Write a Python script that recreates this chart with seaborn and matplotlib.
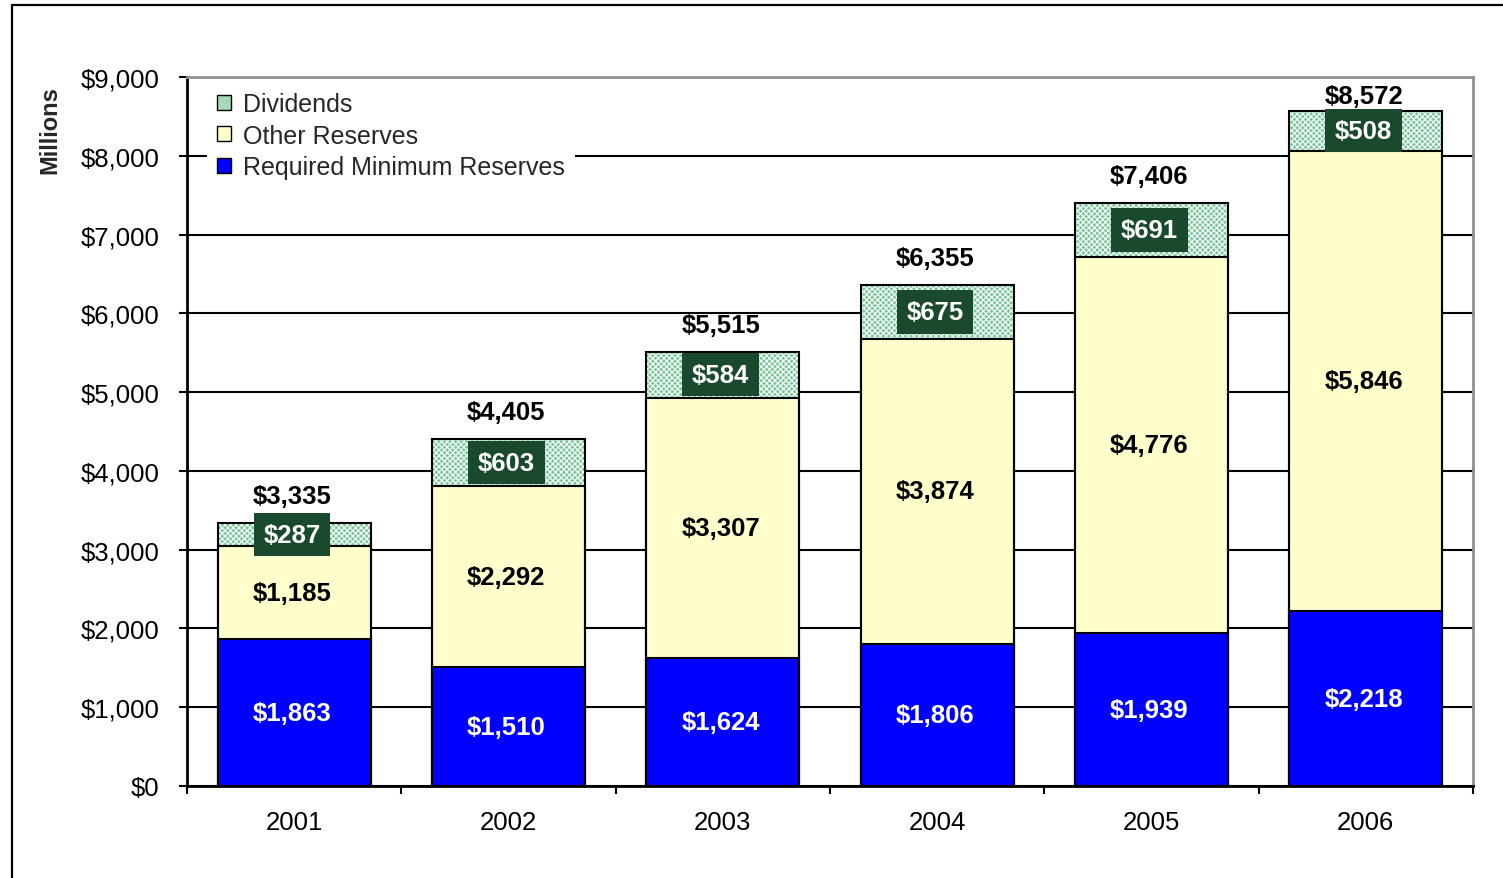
import numpy as np
import pandas as pd
import matplotlib
matplotlib.use("Agg")
import matplotlib.pyplot as plt
from matplotlib.patches import Patch, Rectangle
import seaborn as sns

# ---- data ----
years = ["2001", "2002", "2003", "2004", "2005", "2006"]
required = [1863, 1510, 1624, 1806, 1939, 2218]
other = [1185, 2292, 3307, 3874, 4776, 5846]
dividends = [287, 603, 584, 675, 691, 508]
totals = [3335, 4405, 5515, 6355, 7406, 8572]
yticks = [0, 1000, 2000, 3000, 4000, 5000, 6000, 7000, 8000, 9000]

sns.set_style("white")
plt.rcParams["font.family"] = ["Liberation Sans", "DejaVu Sans"]
plt.rcParams["hatch.linewidth"] = 0.8

C_REQ = "#0000ff"
C_OTH = "#ffffcc"
C_DIV = "#78c699"
C_DIV_LEG = "#a6d8b8"
C_BOX = "#1a4a2e"
FS = 18.5

df = pd.DataFrame({"year": years, "required": required, "other": other,
                   "dividends": dividends, "total": totals})
df["req_oth"] = df["required"] + df["other"]
df["stack_total"] = df["req_oth"] + df["dividends"]

fig = plt.figure(figsize=(15.03, 8.79), dpi=100)
ax = fig.add_axes([187 / 1503, 1 - 787 / 879, (1473 - 187) / 1503, (787 - 78) / 879])

bw = 0.715
# dividends layer (full stack height), hatched
sns.barplot(data=df, x="year", y="stack_total", color=C_DIV, saturation=1,
            width=bw, edgecolor="white", linewidth=0, hatch="xxxxxx",
            errorbar=None, ax=ax, zorder=3)
# other reserves layer
sns.barplot(data=df, x="year", y="req_oth", color=C_OTH, saturation=1,
            width=bw, edgecolor="black", linewidth=1.5,
            errorbar=None, ax=ax, zorder=4)
# required layer
sns.barplot(data=df, x="year", y="required", color=C_REQ, saturation=1,
            width=bw, edgecolor="black", linewidth=1.5,
            errorbar=None, ax=ax, zorder=5)
# outline of full stacks
sns.barplot(data=df, x="year", y="stack_total", color="black", fill=False,
            width=bw, linewidth=1.5, errorbar=None, ax=ax, zorder=6)

# labels
for i in range(len(years)):
    r, o, d, t = required[i], other[i], dividends[i], totals[i]
    ax.text(i - 0.01, r / 2, f"${r:,}", ha="center", va="center", color="white",
            fontsize=FS, fontweight="bold", zorder=8)
    ax.text(i - 0.01, r + o / 2, f"${o:,}", ha="center", va="center", color="black",
            fontsize=FS, fontweight="bold", zorder=8)
    ax.text(i - 0.01, r + o + d / 2, f"${d:,}", ha="center", va="center", color="white",
            fontsize=FS, fontweight="bold", zorder=8,
            bbox=dict(boxstyle="square,pad=0.38", facecolor=C_BOX, edgecolor="none"))
    ty = min(t + 254, 8676)
    ax.text(i - 0.01, ty, f"${t:,}", ha="center", va="baseline", color="black",
            fontsize=FS, fontweight="bold", zorder=8)

# axes styling
ax.set_ylim(0, 9000)
ax.set_xlim(-0.5, 5.5)
ax.set_yticks(yticks)
ax.set_yticklabels([f"${v:,}" for v in yticks])
ax.set_xticks(np.arange(-0.5, 6, 1))
ax.set_xticklabels([""] * 7)
ax.set_xticks(np.arange(0, 6), minor=True)
ax.set_xticklabels(years, minor=True)
ax.set_xlabel("")
ax.set_ylabel("Millions", fontsize=17, fontweight="bold")
ax.yaxis.label.set_va("center")
ax.yaxis.set_label_coords(-0.1065, 0.927)

ax.tick_params(axis="both", which="major", direction="out", length=6,
               width=1.5, color="black", labelsize=FS, labelcolor="black")
ax.tick_params(axis="y", left=True, pad=14)
ax.tick_params(axis="x", which="major", bottom=True)
ax.tick_params(axis="x", which="minor", bottom=True, length=0, pad=17,
               labelsize=FS, labelcolor="black")

ax.yaxis.grid(True, color="black", linewidth=1.5)
ax.xaxis.grid(False)
ax.set_axisbelow(True)
for side in ["left", "bottom"]:
    ax.spines[side].set_color("black")
    ax.spines[side].set_linewidth(2)
for side in ["top", "right"]:
    ax.spines[side].set_color("#909090")
    ax.spines[side].set_linewidth(2)
ax.set_facecolor("white")

handles = [
    Patch(facecolor=C_DIV_LEG, edgecolor="black", linewidth=1, label="Dividends"),
    Patch(facecolor=C_OTH, edgecolor="black", linewidth=1, label="Other Reserves"),
    Patch(facecolor=C_REQ, edgecolor="black", linewidth=1, label="Required Minimum Reserves"),
]
leg = ax.legend(handles=handles, loc="upper left", bbox_to_anchor=(0.012, 1.0),
                frameon=True, fancybox=False, framealpha=1, edgecolor="none",
                facecolor="white", fontsize=18, handlelength=0.56, handleheight=0.56,
                handletextpad=0.45, labelspacing=0.3, borderpad=0.4,
                borderaxespad=0.2)
leg.set_zorder(10)

# outer border
fig.patches.append(Rectangle((12 / 1503, -0.05), 1.2, (1 - 6 / 879) + 0.05,
                             transform=fig.transFigure, fill=False,
                             edgecolor="black", linewidth=1.6))

fig.savefig("out.png", dpi=100, facecolor="white")
